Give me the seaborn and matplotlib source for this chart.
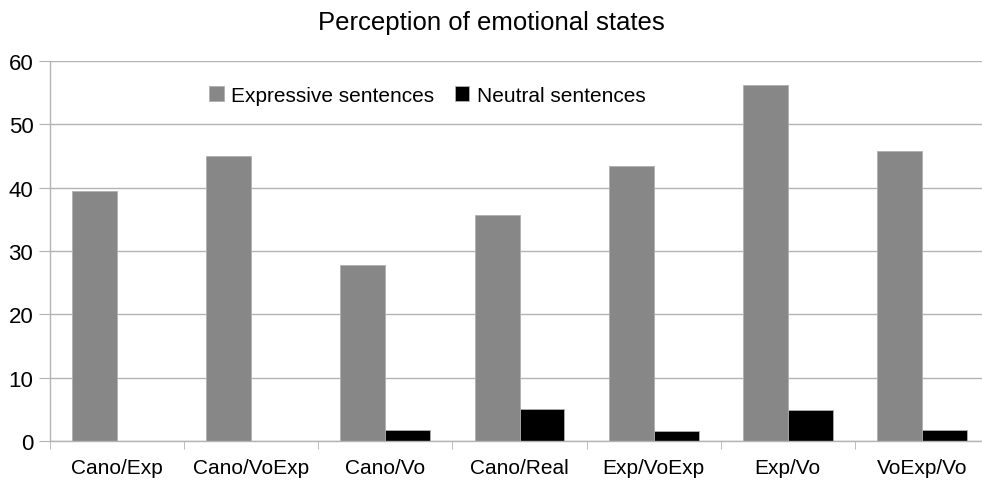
import pandas as pd
import seaborn as sns
import matplotlib.pyplot as plt
from matplotlib.ticker import FixedLocator

categories = ["Cano/Exp", "Cano/VoExp", "Cano/Vo", "Cano/Real", "Exp/VoExp", "Exp/Vo", "VoExp/Vo"]
expressive = [39.5, 45.0, 27.8, 35.7, 43.4, 56.2, 45.8]
neutral = [0.0, 0.0, 1.7, 5.1, 1.6, 4.9, 1.7]
series = ["Expressive sentences", "Neutral sentences"]

df = pd.DataFrame({
    "cat": categories * 2,
    "value": expressive + neutral,
    "series": [series[0]] * len(categories) + [series[1]] * len(categories),
})

sns.set_style("white")
plt.rcParams["font.family"] = ["Liberation Sans", "DejaVu Sans"]
plt.rcParams["text.color"] = "black"

fig = plt.figure(figsize=(9.82, 4.85), dpi=100)
ax = fig.add_axes([50 / 982, 43 / 485, 939 / 982, 380 / 485])

sns.barplot(data=df, x="cat", y="value", hue="series", order=categories,
            palette=["#878787", "#000000"], width=0.67, ax=ax,
            edgecolor="#b0b0b0", linewidth=0.6, saturation=1)

ax.set_ylim(0, 60)
ax.set_xlim(-0.5, 6.5)
ax.set_yticks(range(0, 61, 10))
ax.grid(axis="y", color="#b3b3b3", linewidth=1)
ax.set_axisbelow(True)
ax.set_xlabel("")
ax.set_ylabel("")
for s in ["top", "right"]:
    ax.spines[s].set_visible(False)
for s in ["left", "bottom"]:
    ax.spines[s].set_color("#b3b3b3")
    ax.spines[s].set_linewidth(1)

ax.xaxis.set_minor_locator(FixedLocator([i - 0.5 for i in range(8)]))
ax.tick_params(axis="x", which="major", length=0, labelsize=15, pad=12, labelcolor="black")
ax.tick_params(axis="x", which="minor", length=6, color="#b3b3b3", direction="out", bottom=True)
ax.tick_params(axis="y", length=8, color="#b3b3b3", direction="out", left=True,
               labelsize=16, pad=4, labelcolor="black")

ax.legend(loc="center", bbox_to_anchor=(0.435, 0.802), bbox_transform=fig.transFigure,
          ncol=2, frameon=False, fontsize=15, handlelength=0.7, handleheight=0.7,
          handletextpad=0.35, columnspacing=1.0)

fig.suptitle("Perception of emotional states", x=0.5, y=0.978, fontsize=18.5)

fig.savefig("out.png", dpi=100)
